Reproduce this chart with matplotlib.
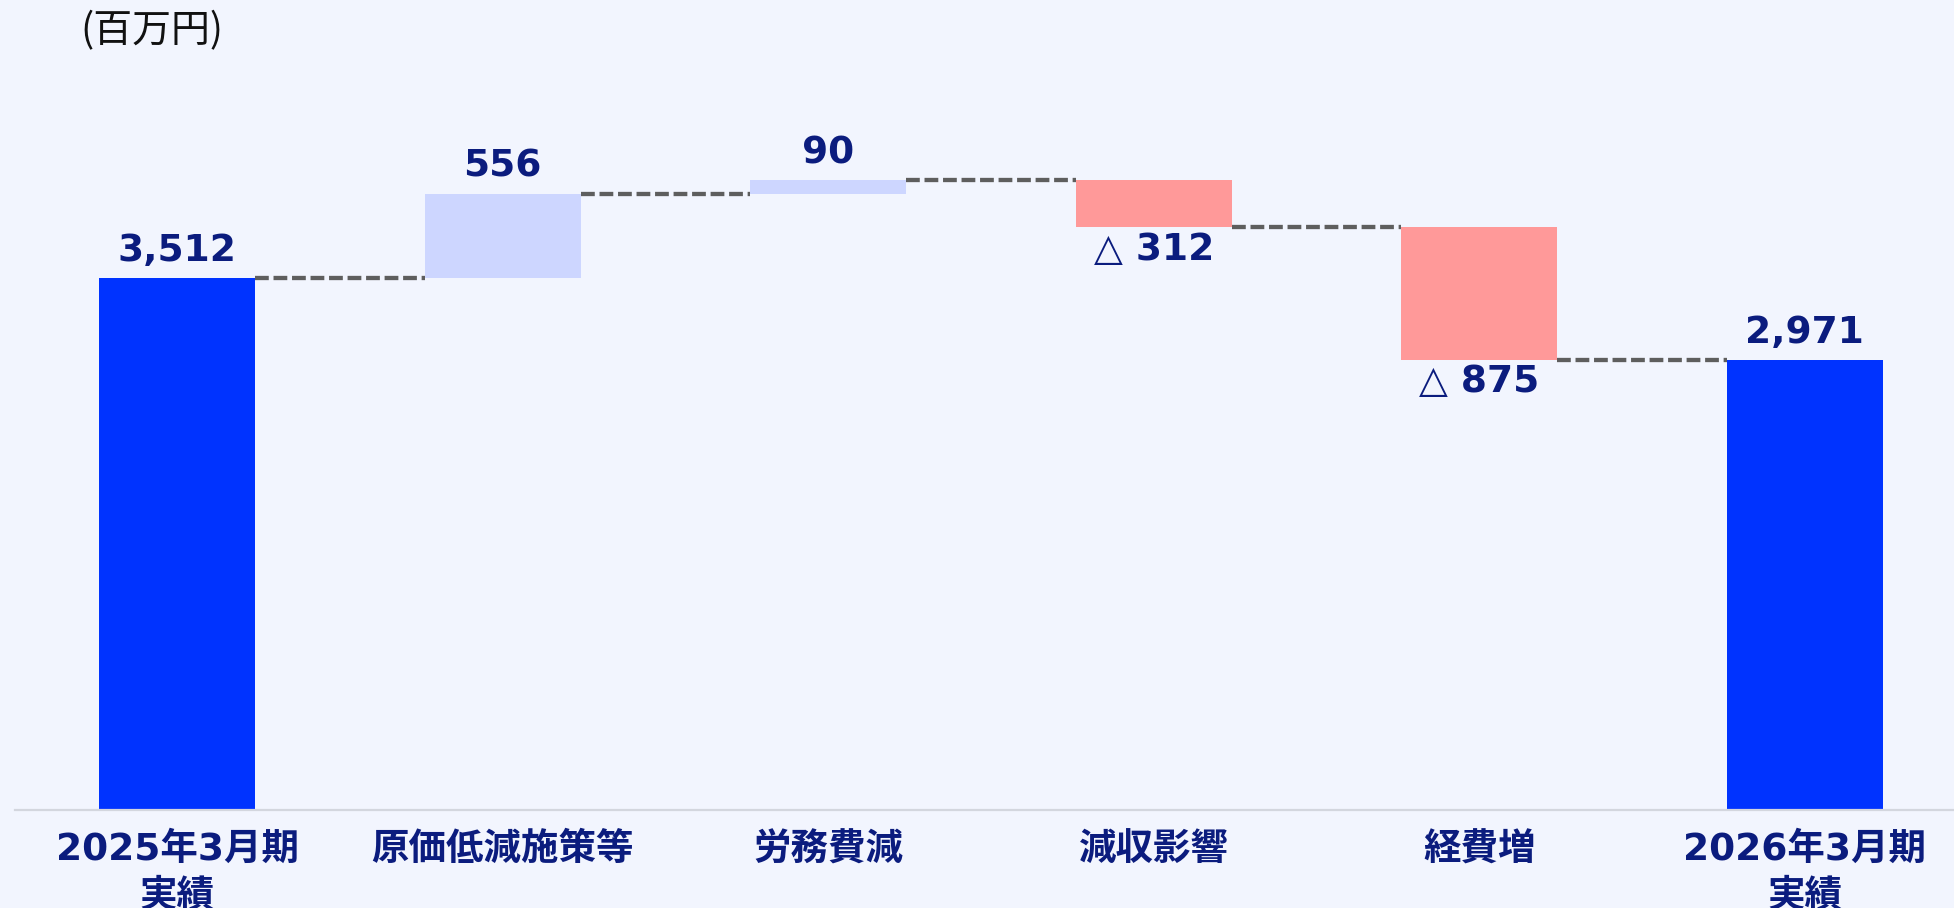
"""Waterfall: 営業利益 bridge, 2025年3月期 -> 2026年3月期 (百万円)."""
import matplotlib
matplotlib.use("Agg")
import matplotlib.pyplot as plt
import numpy as np

categories = ["2025年3月期\n実績", "原価低減施策等", "労務費減", "減収影響", "経費増", "2026年3月期\n実績"]
values = [3512, 556, 90, -312, -875, 2971]
is_total = [True, False, False, False, False, True]

BG = "#F2F5FE"
NAVY = "#0B1C7E"
C_TOTAL = "#0033FF"
C_UP = "#CDD6FF"
C_DOWN = "#FF9999"

plt.rcParams["font.family"] = ["Noto Sans CJK JP", "DejaVu Sans"]

fig = plt.figure(figsize=(19.54, 9.08), dpi=100, facecolor=BG)
ax = fig.add_axes([15 / 1954, 98 / 908, 1939 / 1954, 810 / 908])
ax.set_facecolor(BG)

# bar bottoms / tops from running total
bottoms, tops = [], []
level = 0
for v, tot in zip(values, is_total):
    if tot:
        bottoms.append(0)
        tops.append(v)
        level = v
    else:
        new = level + v
        bottoms.append(min(level, new))
        tops.append(max(level, new))
        level = new

x = np.arange(len(values))
width = 0.48
colors = [C_TOTAL if t else (C_UP if v > 0 else C_DOWN) for v, t in zip(values, is_total)]
heights = [t - b for t, b in zip(tops, bottoms)]
ax.bar(x, heights, bottom=bottoms, width=width, color=colors, zorder=2)

# dashed connectors at the running level
for i in range(len(values) - 1):
    if is_total[i]:
        y = values[i]
    else:
        y = tops[i] if values[i] > 0 else bottoms[i]
    ax.plot([x[i] + width / 2, x[i + 1] - width / 2], [y, y], color="#5E5E5E",
            lw=3.1, linestyle=(0, (3.2, 1.1)), zorder=1)

# value labels
for i, (v, tot) in enumerate(zip(values, is_total)):
    if tot or v > 0:
        ax.text(x[i], tops[i] + 60, f"{v:,}", ha="center", va="bottom",
                fontsize=27, fontweight="bold", color=NAVY, family="DejaVu Sans")
    else:
        ax.text(x[i], bottoms[i] - 30, f"△ {abs(v):,}", ha="center", va="top",
                fontsize=27, fontweight="bold", color=NAVY, family="DejaVu Sans")

ax.set_xlim(-0.498, 5.458)
ax.set_ylim(0, 5347)
ax.set_xticks(x)
ax.set_xticklabels(categories, fontsize=27, fontweight="bold", color=NAVY,
                   linespacing=1.38, family=["DejaVu Sans", "Noto Sans CJK JP"])
ax.tick_params(axis="x", length=0, pad=16)
ax.set_yticks([])
for side in ["top", "right", "left"]:
    ax.spines[side].set_visible(False)
ax.spines["bottom"].set_color("#D3D6DE")
ax.spines["bottom"].set_linewidth(1.6)

fig.text(80 / 1954, 1 - 31 / 908, "(百万円)", ha="left", va="center",
         fontsize=28, color="#111111")

fig.savefig("out.png", dpi=100, facecolor=BG)
